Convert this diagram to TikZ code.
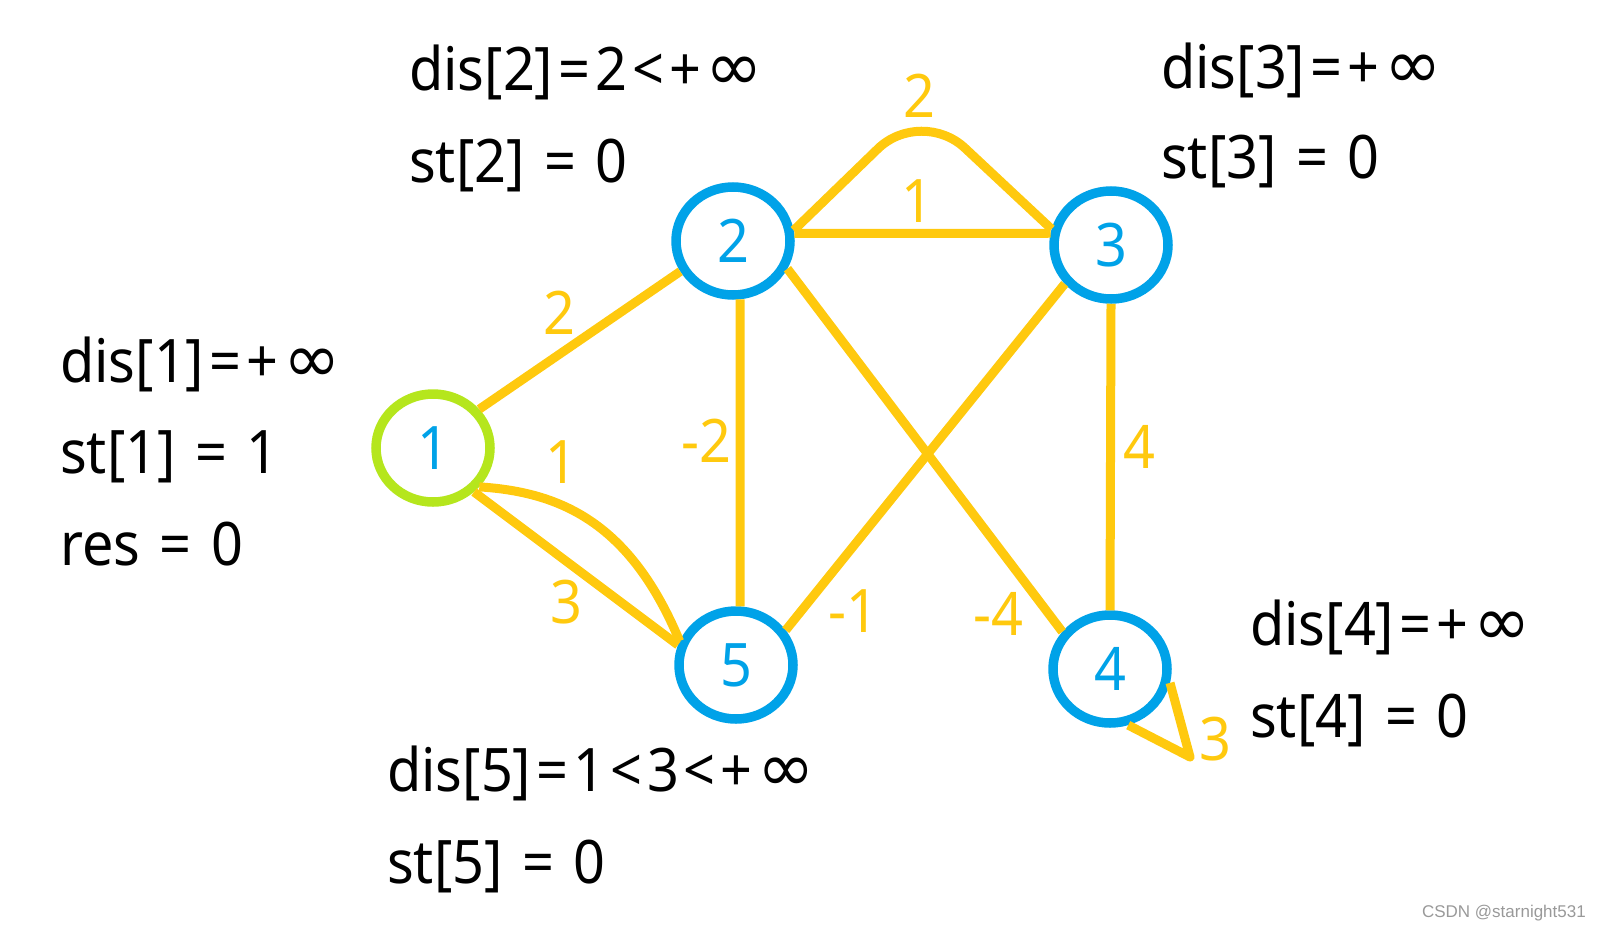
\documentclass[tikz,border=0pt]{standalone}
\usepackage{fontspec}
\setmainfont{Noto Sans}[FakeStretch=0.93]
\newfontfamily\markfont{Liberation Sans}
\newfontfamily\symfont{DejaVu Sans}
\usetikzlibrary{shapes.geometric}

\definecolor{Gold}{RGB}{255,201,14}
\definecolor{Turq}{RGB}{0,162,232}
\definecolor{Lime}{RGB}{181,230,29}
\newcommand{\labelsize}{\fontsize{60}{72}\selectfont}
\newcommand{\gap}{\kern5pt}
\newcommand{\infsym}{{\symfont\fontsize{69}{72}\selectfont ∞}}

\begin{document}
\begin{tikzpicture}[x=1pt,y=-1pt]
			\tikzstyle{Vertex}	= [ellipse, draw=Turq, line width=9.5pt, fill=white, minimum width=114pt, minimum height=108pt, inner sep=0pt, text=Turq, font=\labelsize]
			\tikzstyle{Source}	= [draw=Lime]
			\tikzstyle{Edge}	= [Gold, line width=9pt]
			\tikzstyle{Weight}	= [text=Gold, inner sep=0pt, font=\labelsize]
			\tikzstyle{Info}	= [anchor=base west, inner sep=0pt, font=\labelsize]

			\useasboundingbox (0,0) rectangle (1602,929);

			\node (v1) at (433,448) [Vertex][Source] {1};
			\node (v2) at (733,241) [Vertex] {2};
			\node (v3) at (1111,245) [Vertex] {3};
			\node (v4) at (1110,669) [Vertex] {4};
			\node (v5) at (736,665) [Vertex] {5};

			\coordinate (peak) at (921,107);
			\coordinate (tip) at (1190,757);

			\draw [-] (v1.40) to (v2.210) [Edge];
			\draw [-] (v1.313) to (v5.161) [Edge];
			\draw [-] (v1.320) .. controls (560,492) and (630,522) .. (v5.157) [Edge];
			\draw [-] (v2.7) to (v3.169) [Edge];
			\draw [rounded corners=60pt] (v2.10) -- (peak) -- (v3.165) [Edge];
			\draw [-] (v2.277) to (v5.86) [Edge];
			\draw [-] (v2.333) to (v4.142) [Edge];
			\draw [-] (v3.220) to (v5.35) [Edge];
			\draw [-] (v3.270) to (v4.90) [Edge];
			\draw [line join=round] (v4.347) -- (tip) -- (v4.288) [Edge];

			\node (w12) at (559,313) [Weight] {2};
			\node (w15a) at (561,462) [Weight] {1};
			\node (w15b) at (566,602) [Weight] {3};
			\node (w25) at (706,441) [Weight] {-2};
			\node (w23a) at (919,96) [Weight] {2};
			\node (w23b) at (917,201) [Weight] {1};
			\node (w34) at (1139,447) [Weight] {4};
			\node (w35) at (853,611) [Weight] {-1};
			\node (w24) at (998,614) [Weight] {-4};
			\node (w44) at (1215,739) [Weight] {3};

			\node (d1) at (60,382) [Info] {dis[1]\gap=\gap+\gap\infsym};
			\node (s1) at (60,473) [Info] {st[1] \gap= \gap1};
			\node (r1) at (60,565) [Info] {res \gap= \gap0};
			\node (d2) at (409,90) [Info] {dis[2]\gap=\gap2\gap<\gap+\gap\infsym};
			\node (s2) at (409,182) [Info] {st[2] \gap= \gap0};
			\node (d3) at (1161,88) [Info] {dis[3]\gap=\gap+\gap\infsym};
			\node (s3) at (1161,178) [Info] {st[3] \gap= \gap0};
			\node (d4) at (1250,645) [Info] {dis[4]\gap=\gap+\gap\infsym};
			\node (s4) at (1250,737) [Info] {st[4] \gap= \gap0};
			\node (d5) at (387,791) [Info] {dis[5]\gap=\gap1\gap<\gap3\gap<\gap+\gap\infsym};
			\node (s5) at (387,883) [Info] {st[5] \gap= \gap0};

			\node (mark) at (1586,917) [anchor=base east, inner sep=0pt, text=black!40, font=\markfont\fontsize{17}{20}\selectfont] {CSDN @starnight531};
		\end{tikzpicture}
\end{document}
